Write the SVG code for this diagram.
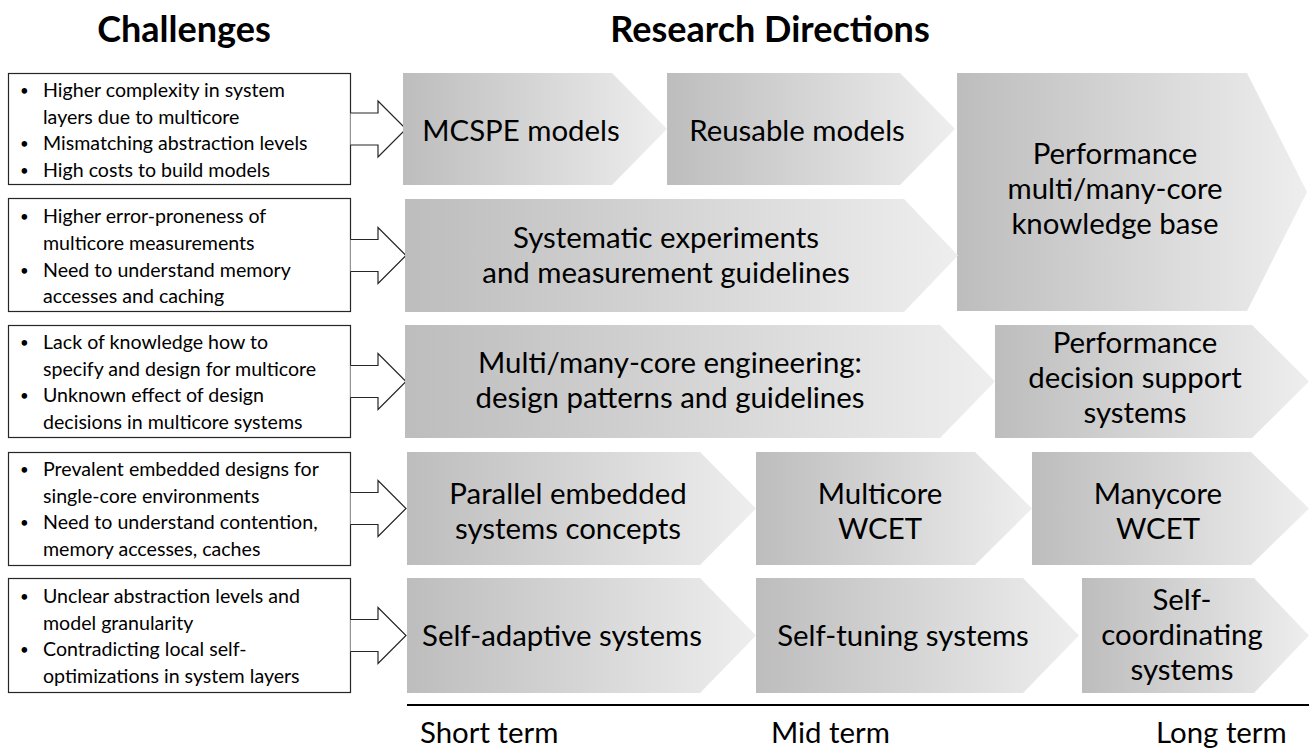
<svg xmlns="http://www.w3.org/2000/svg" width="1309" height="749" viewBox="0 0 1309 749">
<defs>
<linearGradient id="g" x1="0" y1="0" x2="1" y2="0">
<stop offset="0" stop-color="#bdbdbd"/>
<stop offset="1" stop-color="#eeeeee"/>
</linearGradient>
<style>
.hd{font-family:Lato,"Open Sans",sans-serif;font-weight:bold;font-size:36px;fill:#000;text-anchor:middle}
.bx{fill:#fff;stroke:#262626;stroke-width:1.2}
.ar{fill:#fff;stroke:#262626;stroke-width:1.2}
.bt{font-family:Lato,"Open Sans",sans-serif;font-size:19.6px;fill:#000}
.bl{font-size:15px}
.ch{fill:url(#g);stroke:none}
.ct{font-family:Lato,"Open Sans",sans-serif;font-size:29.4px;fill:#000;text-anchor:middle}
.tl{font-family:Lato,"Open Sans",sans-serif;font-size:29.4px;fill:#000}
</style>
</defs>
<rect width="1309" height="749" fill="#fff"/>

<g id="headers">
<text class="hd" x="184" y="42">Challenges</text>
<text class="hd" x="770" y="42">Research Directions</text>
</g>

<g id="challenge1">
<rect class="bx" x="8.5" y="73.5" width="342" height="111"/>
<text class="bt"><tspan class="bl" x="20" y="96">•</tspan><tspan x="43" y="97">Higher complexity in system</tspan><tspan x="43" y="123.5">layers due to multicore</tspan><tspan class="bl" x="20" y="149">•</tspan><tspan x="43" y="150">Mismatching abstraction levels</tspan><tspan class="bl" x="20" y="175.5">•</tspan><tspan x="43" y="176.5">High costs to build models</tspan></text>
</g>
<g id="challenge2">
<rect class="bx" x="8.5" y="198.5" width="342" height="113"/>
<text class="bt"><tspan class="bl" x="20" y="222">•</tspan><tspan x="43" y="223">Higher error-proneness of</tspan><tspan x="43" y="250">multicore measurements</tspan><tspan class="bl" x="20" y="276">•</tspan><tspan x="43" y="277">Need to understand memory</tspan><tspan x="43" y="303">accesses and caching</tspan></text>
</g>
<g id="challenge3">
<rect class="bx" x="8.5" y="325.5" width="342" height="112"/>
<text class="bt"><tspan class="bl" x="20" y="348">•</tspan><tspan x="43" y="349">Lack of knowledge how to</tspan><tspan x="43" y="375.5">specify and design for multicore</tspan><tspan class="bl" x="20" y="401">•</tspan><tspan x="43" y="402">Unknown effect of design</tspan><tspan x="43" y="428.5">decisions in multicore systems</tspan></text>
</g>
<g id="challenge4">
<rect class="bx" x="8.5" y="452.5" width="342" height="113"/>
<text class="bt"><tspan class="bl" x="20" y="475">•</tspan><tspan x="43" y="476">Prevalent embedded designs for</tspan><tspan x="43" y="502.5">single-core environments</tspan><tspan class="bl" x="20" y="528">•</tspan><tspan x="43" y="529">Need to understand contention,</tspan><tspan x="43" y="555.5">memory accesses, caches</tspan></text>
</g>
<g id="challenge5">
<rect class="bx" x="8.5" y="578.5" width="342" height="114"/>
<text class="bt"><tspan class="bl" x="20" y="602">•</tspan><tspan x="43" y="603">Unclear abstraction levels and</tspan><tspan x="43" y="629.5">model granularity</tspan><tspan class="bl" x="20" y="655">•</tspan><tspan x="43" y="656">Contradicting local self-</tspan><tspan x="43" y="682.5">optimizations in system layers</tspan></text>
</g>

<g id="connectors">
<path class="ar" d="M350.5 113H378V101L406 129L378 157V145H350.5"/>
<path class="ar" d="M350.5 239.5H378V227.5L406 255.5L378 283.5V271.5H350.5"/>
<path class="ar" d="M350.5 365.5H378V353.5L406 381.5L378 409.5V397.5H350.5"/>
<path class="ar" d="M350.5 492.5H378V480.5L406 508.5L378 536.5V524.5H350.5"/>
<path class="ar" d="M350.5 619.5H378V607.5L406 635.5L378 663.5V651.5H350.5"/>
</g>

<g id="mcspe">
<path class="ch" d="M403 73H612L667 129L612 185H403Z"/>
<text class="ct" x="521" y="141">MCSPE models</text>
</g>
<g id="reusable">
<path class="ch" d="M667 73H900L955 129L900 185H667Z"/>
<text class="ct" x="797" y="141">Reusable models</text>
</g>
<g id="kb">
<path class="ch" d="M957 73H1247L1307 192L1247 311H957Z"/>
<text class="ct"><tspan x="1115" y="164">Performance</tspan><tspan x="1115" y="199">multi/many-core</tspan><tspan x="1115" y="234">knowledge base</tspan></text>
</g>
<g id="systematic">
<path class="ch" d="M405 199H904L958 255.5L904 312H405Z"/>
<text class="ct"><tspan x="666" y="248">Systematic experiments</tspan><tspan x="666" y="283">and measurement guidelines</tspan></text>
</g>
<g id="engineering">
<path class="ch" d="M405 325H940L995 381.5L940 438H405Z"/>
<text class="ct"><tspan x="670" y="373">Multi/many-core engineering:</tspan><tspan x="670" y="408">design patterns and guidelines</tspan></text>
</g>
<g id="decision">
<path class="ch" d="M995 325H1252L1309 381.5L1252 438H995Z"/>
<text class="ct"><tspan x="1135" y="353">Performance</tspan><tspan x="1135" y="388">decision support</tspan><tspan x="1135" y="423">systems</tspan></text>
</g>
<g id="parallel">
<path class="ch" d="M407 452H700L756 508.5L700 565H407Z"/>
<text class="ct"><tspan x="568" y="504">Parallel embedded</tspan><tspan x="568" y="539">systems concepts</tspan></text>
</g>
<g id="multicore">
<path class="ch" d="M756 452H975L1032 508.5L975 565H756Z"/>
<text class="ct"><tspan x="880" y="504">Multicore</tspan><tspan x="880" y="539">WCET</tspan></text>
</g>
<g id="manycore">
<path class="ch" d="M1032 452H1251L1309 508.5L1251 565H1032Z"/>
<text class="ct"><tspan x="1158" y="504">Manycore</tspan><tspan x="1158" y="539">WCET</tspan></text>
</g>
<g id="selfadaptive">
<path class="ch" d="M407 578H700L756 635.5L700 693H407Z"/>
<text class="ct" x="562" y="646">Self-adaptive systems</text>
</g>
<g id="selftuning">
<path class="ch" d="M756 578H1023L1079 635.5L1023 693H756Z"/>
<text class="ct" x="903" y="646">Self-tuning systems</text>
</g>
<g id="selfcoord">
<path class="ch" d="M1082 578H1254L1309 635.5L1254 693H1082Z"/>
<text class="ct"><tspan x="1182" y="610">Self-</tspan><tspan x="1182" y="645">coordinating</tspan><tspan x="1182" y="680">systems</tspan></text>
</g>

<g id="timeline">
<line x1="407" y1="705" x2="1309" y2="705" stroke="#000" stroke-width="2"/>
<text class="tl" x="420" y="743">Short term</text>
<text class="tl" x="771" y="743">Mid term</text>
<text class="tl" x="1156" y="743">Long term</text>
</g>
</svg>
